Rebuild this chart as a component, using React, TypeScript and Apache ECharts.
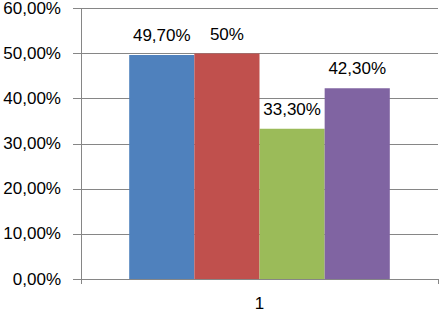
import React, { useEffect, useRef } from "react";
import * as echarts from "echarts";

const categories = ["1"];
const seriesNames = ["A", "B", "C", "D"];
const values = [49.7, 50, 33.3, 42.3];
const labels = ["49,70%", "50%", "33,30%", "42,30%"];
const colors = ["#4F81BD", "#C0504D", "#9BBB59", "#8064A2"];
const yTicks = [0, 10, 20, 30, 40, 50, 60];

const FONT = "Liberation Sans";

export default function App() {
  const ref = useRef<HTMLDivElement>(null);
  useEffect(() => {
    if (!ref.current) return;
    const chart = echarts.init(ref.current, undefined, { renderer: "svg" });
    chart.setOption({
      animation: false,
      grid: { left: 81, right: 1, top: 7, bottom: 34, containLabel: false },
      xAxis: {
        type: "category",
        data: categories,
        axisLine: { lineStyle: { color: "#868686", width: 1 } },
        axisTick: { show: true, length: 5, lineStyle: { color: "#868686" } },
        axisLabel: { color: "#000", fontFamily: FONT, fontSize: 17, margin: 16 },
      },
      yAxis: {
        type: "value",
        min: yTicks[0],
        max: yTicks[yTicks.length - 1],
        interval: 10,
        axisLine: { show: true, lineStyle: { color: "#868686", width: 1 } },
        axisTick: { show: true, length: 8, lineStyle: { color: "#868686" } },
        splitLine: { show: true, lineStyle: { color: "#868686", width: 1 } },
        axisLabel: {
          color: "#000",
          fontFamily: FONT,
          fontSize: 17,
          margin: 20,
          formatter: (v: number) => v.toFixed(2).replace(".", ",") + "%",
        },
      },
      series: values.map((v, i) => ({
        type: "bar",
        name: seriesNames[i],
        data: [v],
        barGap: "0%",
        barCategoryGap: "27%",
        itemStyle: { color: colors[i] },
        label: {
          show: true,
          position: "top",
          distance: 11,
          color: "#000",
          fontFamily: FONT,
          fontSize: 17,
          formatter: () => labels[i],
        },
      })),
    });
    return () => chart.dispose();
  }, []);
  return <div ref={ref} style={{ width: 439, height: 313, position: "absolute", left: 0, top: 0 }} />;
}
